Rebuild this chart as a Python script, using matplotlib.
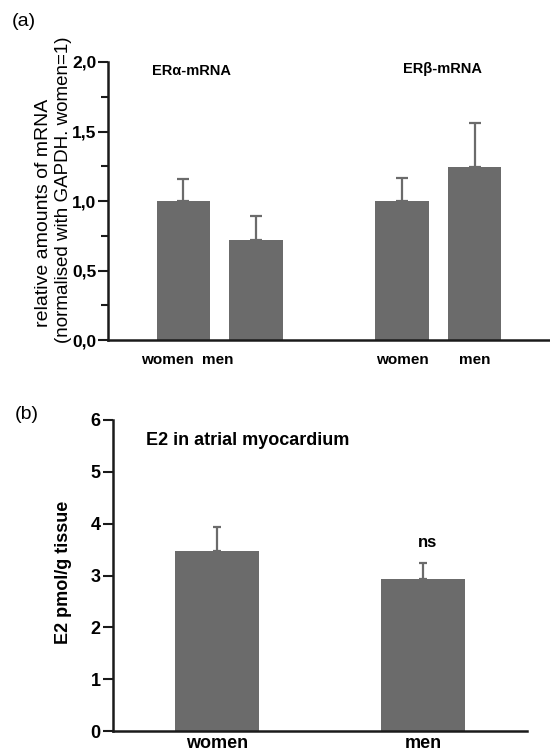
import matplotlib
matplotlib.use("Agg")
import matplotlib.pyplot as plt
from matplotlib.ticker import MultipleLocator, FuncFormatter

plt.rcParams['font.family'] = ['Liberation Sans', 'DejaVu Sans']

# Panel (a) data
a_groups = ["ERα-mRNA", "ERβ-mRNA"]
a_labels = ["women", "men", "women", "men"]
a_values = [1.0, 0.72, 1.0, 1.245]
a_err = [0.158, 0.17, 0.165, 0.315]
a_yticks = [0.0, 0.5, 1.0, 1.5, 2.0]

# Panel (b) data
b_title = "E2 in atrial myocardium"
b_labels = ["women", "men"]
b_values = [3.47, 2.94]
b_err = [0.46, 0.31]
b_yticks = [0, 1, 2, 3, 4, 5, 6]

W, H = 550, 753
fig = plt.figure(figsize=(W / 100, H / 100), dpi=100)

bar_color = "#6b6b6b"
spine_color = "#1a1a1a"

def px_axes(left, top, right, bottom):
    return fig.add_axes([left / W, 1 - bottom / H, (right - left) / W, (bottom - top) / H])

# ---------- Panel (a) ----------
ax = px_axes(108, 62, 550, 340)
pos_a = [0, 1, 3, 4]
ax.bar(pos_a, a_values, width=0.73, color=bar_color, zorder=2)
ax.errorbar(pos_a, a_values, yerr=[[0] * 4, a_err], fmt="none",
            ecolor=bar_color, elinewidth=1.6, capsize=4.5, capthick=1.6, zorder=1)
ax.set_xlim(-1.03, 5.03)
ax.set_ylim(0, 2.0)
ax.set_yticks(a_yticks)
ax.yaxis.set_minor_locator(MultipleLocator(0.25))
ax.yaxis.set_major_formatter(FuncFormatter(lambda v, p: f"{v:.1f}".replace(".", ",")))
for s in ["top", "right"]:
    ax.spines[s].set_visible(False)
for s in ["left", "bottom"]:
    ax.spines[s].set_linewidth(1.8)
    ax.spines[s].set_color(spine_color)
ax.tick_params(axis="y", which="major", length=7, width=1.5, color=spine_color,
               labelsize=12.5, pad=1.5)
ax.tick_params(axis="y", which="minor", length=5, width=1.5, color=spine_color)
for t in ax.get_yticklabels():
    t.set_fontweight("bold")
ax.set_xticks([])
label_pos_a = [-0.22, 0.48, 3, 4]
for xp, lab in zip(label_pos_a, a_labels):
    ax.text(xp, -0.045, lab, ha="center", va="top", fontsize=11, fontweight="bold",
            transform=ax.get_xaxis_transform())
ax.text(0.12, 1.935, a_groups[0], ha="center", va="center", fontsize=10.5, fontweight="bold")
ax.text(3.56, 1.95, a_groups[1], ha="center", va="center", fontsize=10.5, fontweight="bold")
fig.text(44 / W, 1 - 213 / H, "relative amounts of mRNA", rotation=90,
         ha="center", va="center", fontsize=14)
fig.text(64 / W, 1 - 190 / H, "(normalised with GAPDH. women=1)", rotation=90,
         ha="center", va="center", fontsize=13.5)
fig.text(12 / W, 1 - 21 / H, "(a)", ha="left", va="center", fontsize=14)

# ---------- Panel (b) ----------
bx = px_axes(113, 420, 527, 731)
pos_b = [0, 1]
bx.bar(pos_b, b_values, width=0.41, color=bar_color, zorder=2)
bx.errorbar(pos_b, b_values, yerr=[[0] * 2, b_err], fmt="none",
            ecolor=bar_color, elinewidth=1.6, capsize=3, capthick=1.6, zorder=1)
bx.set_xlim(-0.505, 1.505)
bx.set_ylim(0, 6)
bx.set_yticks(b_yticks)
for s in ["top", "right"]:
    bx.spines[s].set_visible(False)
for s in ["left", "bottom"]:
    bx.spines[s].set_linewidth(1.8)
    bx.spines[s].set_color(spine_color)
bx.tick_params(axis="y", which="major", length=7, width=1.5, color=spine_color,
               labelsize=13, pad=2)
for t in bx.get_yticklabels():
    t.set_fontweight("bold")
bx.set_xticks(pos_b)
bx.set_xticklabels(b_labels, fontsize=13, fontweight="bold")
bx.tick_params(axis="x", length=0, pad=3)
bx.text(-0.345, 5.6, b_title, ha="left", va="center", fontsize=13, fontweight="bold")
bx.text(1.02, 3.64, "ns", ha="center", va="center", fontsize=12, fontweight="bold")
fig.text(63 / W, 1 - 572 / H, "E2 pmol/g tissue", rotation=90,
         ha="center", va="center", fontsize=13, fontweight="bold")
fig.text(15 / W, 1 - 415 / H, "(b)", ha="left", va="center", fontsize=14)

fig.savefig("out.png", dpi=100)
